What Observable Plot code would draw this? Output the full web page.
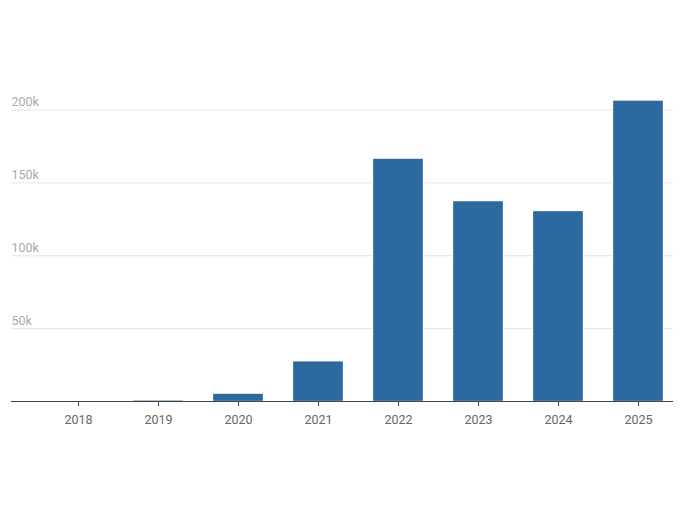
<!DOCTYPE html>
<html><head><meta charset="utf-8">
<script src="https://cdn.jsdelivr.net/npm/d3@7"></script>
<script src="https://cdn.jsdelivr.net/npm/@observablehq/plot@0.6"></script>
<style>body{margin:0;background:#fff;}</style>
</head><body><div id="chart"></div>
<script>
const years = ["2018","2019","2020","2021","2022","2023","2024","2025"];
const values = [0, 500, 5000, 27300, 166300, 137200, 130400, 206200];
const yTicks = [50000, 100000, 150000, 200000];
const data = years.map((y, i) => ({year: y, value: values[i]}));
const chart = Plot.plot({
  width: 688, height: 516,
  marginLeft: 11, marginRight: 15, marginTop: 95, marginBottom: 115,
  style: {fontFamily: "Roboto, sans-serif", fontSize: "12px", background: "#fff"},
  x: {domain: years, paddingInner: 0.375, paddingOuter: 0.325, align: 0.81, label: null},
  y: {domain: [0, 210000], label: null},
  marks: [
    Plot.gridY(yTicks, {stroke: "#e4e4e4", strokeOpacity: 1}),
    Plot.axisY(yTicks, {anchor: "left", tickSize: 0, tickPadding: 0, textAnchor: "start", dy: -8, fill: "#aaa", fontSize: 12.5, tickFormat: d => d / 1000 + "k", label: null}),
    Plot.barY(data, {x: "year", y: "value", fill: "#2c699e", stroke: "#fff", strokeWidth: 0.6, strokeOpacity: 0.5}),
    Plot.ruleY([0], {stroke: "#444", strokeWidth: 1}),
    Plot.axisX({tickSize: 5, tickPadding: 9, stroke: "#444", fill: "#666", fontSize: 12.5, label: null})
  ]
});
document.getElementById("chart").append(chart);
</script></body></html>
